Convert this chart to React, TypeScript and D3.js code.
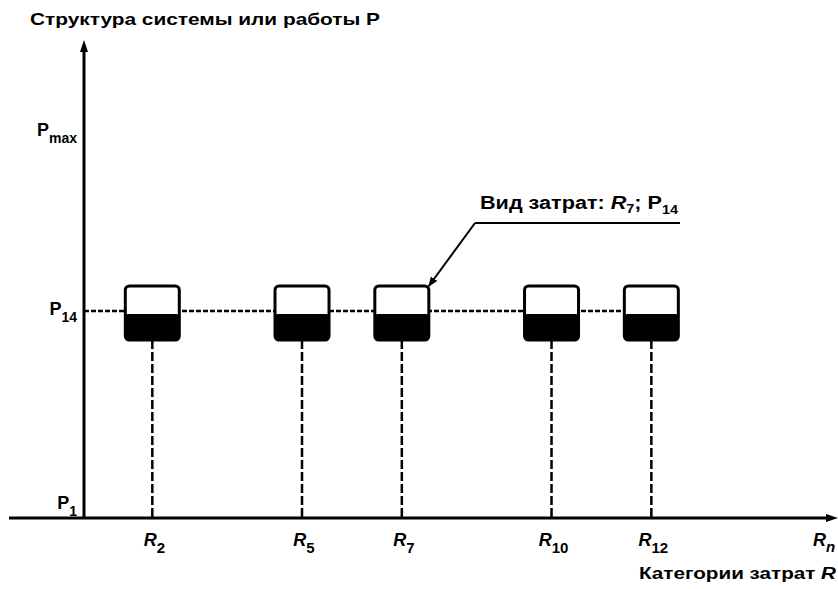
import React from 'react';
import * as d3 from 'd3';

// cost categories R_i that have a box
const categories = [2, 5, 7, 10, 12];
const lastCategory = 'n';
const lastCategoryPos = 15.5;
// structure levels P
const levelLabels = ['1', '14', 'max'];
const levelValues = [1, 14, 26];
const activeLevel = 14;
const calloutCategory = 7;

const title = 'Структура системы или работы P';
const xTitle = 'Категории затрат ';
const calloutText = 'Вид затрат: ';

const W = 838;
const H = 589;
const axisX = 84;
const axisY = 518;
const FONT = '"Liberation Sans", Arial, sans-serif';

const App = () => {
  const x = d3.scaleLinear().domain([0, lastCategoryPos]).range([52.5, 826]);
  const y = d3.scaleLinear().domain([1, 14]).range([505, 311]);

  const yP = y(activeLevel);
  const boxW = 54;
  const boxTop = yP - 25;
  const boxBottom = yP + 29;
  const lastX = x(categories[categories.length - 1]);
  const cx = x(calloutCategory) + boxW / 2;

  return (
    <svg width={W} height={H} style={{ position: 'absolute', left: 0, top: 0, background: '#fff' }}
      fontFamily={FONT} fontWeight="bold">
      <defs>
        <marker id="arr" viewBox="0 0 10 10" refX="9" refY="5" markerWidth="5" markerHeight="5" orient="auto">
          <path d="M0,1 L10,5 L0,9 Z" fill="#000" />
        </marker>
      </defs>

      <text x={30} y={25} fontSize={17} textLength={350} lengthAdjust="spacingAndGlyphs">{title}</text>

      {/* axes */}
      <line x1={axisX} x2={axisX} y1={axisY} y2={48} stroke="#000" strokeWidth={3} />
      <path d={`M${axisX - 4},${52} L${axisX},${40} L${axisX + 4},${52} Z`} fill="#000" />
      <line x1={9} x2={828} y1={axisY} y2={axisY} stroke="#000" strokeWidth={3} />
      <path d={`M${826},${axisY - 4} L${838},${axisY} L${826},${axisY + 4} Z`} fill="#000" />

      {/* level labels */}
      {levelValues.map((v, i) => (
        <text key={v} x={axisX - 7} y={y(v) + 4} fontSize={18} textAnchor="end">
          P<tspan fontSize={14} dy={7}>{levelLabels[i]}</tspan>
        </text>
      ))}

      {/* dotted P14 line */}
      <line x1={axisX} x2={lastX} y1={yP} y2={yP} stroke="#000" strokeWidth={2.5} strokeDasharray="5 2" />

      {categories.map(c => (
        <g key={c}>
          <line x1={x(c)} x2={x(c)} y1={boxBottom} y2={axisY} stroke="#000" strokeWidth={2.5} strokeDasharray="9 3" />
          <rect x={x(c) - boxW / 2} y={boxTop} width={boxW} height={boxBottom - boxTop} rx={4}
            fill="#fff" stroke="#000" strokeWidth={3} />
          <rect x={x(c) - boxW / 2} y={yP + 3} width={boxW} height={boxBottom - yP - 3} rx={3} fill="#000" />
          <text x={x(c) + 2} y={546} fontSize={18} textAnchor="middle" fontStyle="italic">
            R<tspan fontSize={15} dy={7} fontStyle="normal">{c}</tspan>
          </text>
        </g>
      ))}

      <text x={x(lastCategoryPos) - 2} y={546} fontSize={18} textAnchor="middle" fontStyle="italic">
        R<tspan fontSize={15} dy={6}>{lastCategory}</tspan>
      </text>
      <text x={836} y={579} fontSize={16} textAnchor="end" textLength={197} lengthAdjust="spacingAndGlyphs">
        {xTitle}<tspan fontStyle="italic">R</tspan>
      </text>

      {/* callout */}
      <text x={480} y={209} fontSize={18} textLength={198} lengthAdjust="spacingAndGlyphs">
        {calloutText}<tspan fontStyle="italic">R</tspan><tspan fontSize={12} dy={4}>{calloutCategory}</tspan>
        <tspan dy={-4}>; P</tspan><tspan fontSize={12} dy={5}>{activeLevel}</tspan>
      </text>
      <line x1={475} x2={680} y1={223} y2={223} stroke="#000" strokeWidth={2} />
      <line x1={475} y1={223} x2={cx} y2={boxTop} stroke="#000" strokeWidth={2} markerEnd="url(#arr)" />
    </svg>
  );
};

export default App;
